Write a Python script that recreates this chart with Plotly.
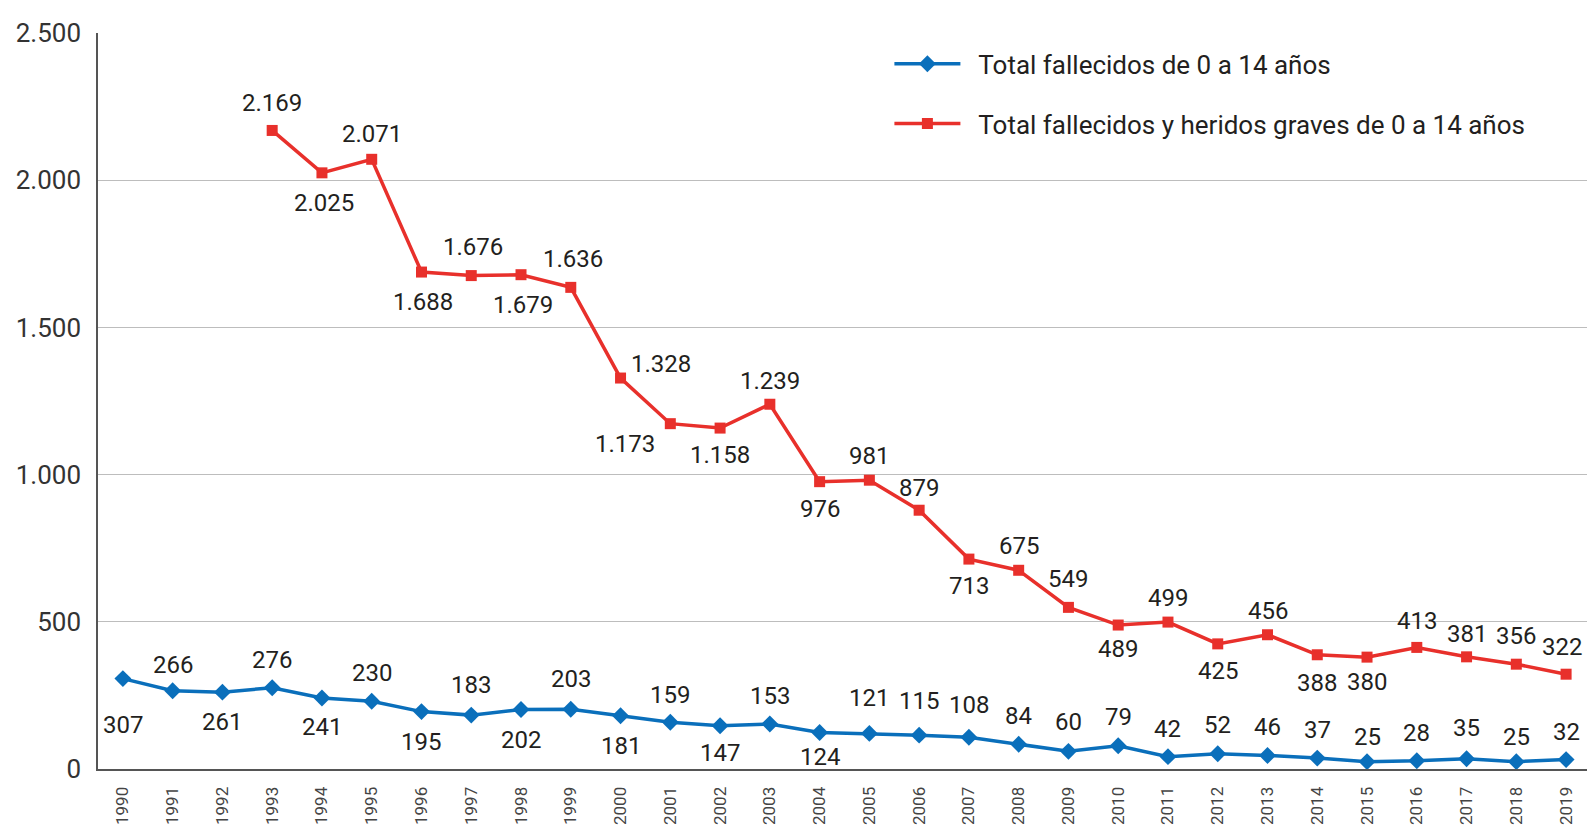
import plotly.graph_objects as go

years = list(range(1990, 2020))
fallecidos = [307, 266, 261, 276, 241, 230, 195, 183, 202, 203, 181, 159, 147, 153, 124,
              121, 115, 108, 84, 60, 79, 42, 52, 46, 37, 25, 28, 35, 25, 32]
red_years = list(range(1993, 2020))
graves = [2169, 2025, 2071, 1688, 1676, 1679, 1636, 1328, 1173, 1158, 1239, 976, 981, 879,
          713, 675, 549, 489, 499, 425, 456, 388, 380, 413, 381, 356, 322]

name_blue = "Total fallecidos de 0 a 14 años"
name_red = "Total fallecidos y heridos graves de 0 a 14 años"

# label offsets (pixels): (xshift, yshift)
blue_off = [(0, -46), (0, 26), (0, -30), (0, 28), (0, -29), (0, 28), (0, -30), (0, 30), (0, -30), (0, 30),
            (0, -30), (0, 27), (0, -27), (0, 28), (0, -25), (0, 35), (0, 34), (0, 32), (0, 28), (0, 29),
            (0, 29), (0, 28), (0, 29), (0, 28), (0, 28), (0, 25), (0, 28), (0, 31), (0, 25), (0, 28)]
red_off = [(0, 27), (2, -30), (0, 25), (2, -30), (2, 29), (2, -30), (2, 28), (40, 14), (-45, -20),
           (0, -27), (0, 23), (0, -27), (0, 24), (0, 22), (0, -27), (0, 24), (0, 28), (0, -24),
           (0, 24), (0, -27), (0, 24), (0, -28), (0, -25), (0, 26), (0, 23), (0, 28), (-4, 27)]

BLUE = "#0a6fbb"
RED = "#e8302b"
TXT = "#231f20"
FONT = "Roboto, sans-serif"


def fmt(v):
    return f"{v:,}".replace(",", ".")


fig = go.Figure()
fig.add_trace(go.Scatter(x=years, y=fallecidos, mode="lines+markers",
                         name="\u00a0\u00a0" + name_blue,
                         line=dict(color=BLUE, width=3.5),
                         marker=dict(symbol="diamond", size=13, color=BLUE),
                         legendgroup="a"))
fig.add_trace(go.Scatter(x=red_years, y=graves, mode="lines+markers",
                         name="\u00a0\u00a0" + name_red,
                         line=dict(color=RED, width=3.5),
                         marker=dict(symbol="square", size=11, color=RED),
                         legendgroup="b"))

annotations = []
for x, v, (dx, dy) in zip(years, fallecidos, blue_off):
    annotations.append(dict(x=x, y=v, xref="x", yref="y", text=fmt(v), showarrow=False,
                            xshift=dx, yshift=dy, font=dict(family=FONT, size=24, color=TXT)))
for x, v, (dx, dy) in zip(red_years, graves, red_off):
    annotations.append(dict(x=x, y=v, xref="x", yref="y", text=fmt(v), showarrow=False,
                            xshift=dx, yshift=dy, font=dict(family=FONT, size=24, color=TXT)))

fig.update_layout(
    width=1587, height=831,
    margin=dict(l=98, r=0, t=33, b=62, autoexpand=False),
    paper_bgcolor="white", plot_bgcolor="white",
    separators=",.",
    font=dict(family=FONT, color=TXT),
    annotations=annotations,
    showlegend=True,
    legend=dict(x=0.5315, y=0.99, xanchor="left", yanchor="top",
                font=dict(family=FONT, size=26, color=TXT),
                tracegroupgap=23, traceorder="grouped", itemwidth=66,
                bgcolor="rgba(0,0,0,0)"),
)
fig.update_xaxes(range=[1989.5, 2019.42], tickmode="array", tickvals=years,
                 ticktext=[str(y) for y in years], tickangle=-90,
                 tickfont=dict(family=FONT, size=17, color="#444"),
                 showgrid=False, zeroline=False, showline=True, linecolor="#555", linewidth=2,
                 ticks="", automargin=False, ticklabelstandoff=9)
fig.update_yaxes(range=[0, 2500], tickvals=[0, 500, 1000, 1500, 2000, 2500],
                 separatethousands=True, tickformat=",d",
                 tickfont=dict(family=FONT, size=26, color="#333"),
                 showgrid=True, gridcolor="#bdbdbd", gridwidth=1.2, zeroline=False,
                 showline=True, linecolor="#555", linewidth=1.5, ticks="",
                 ticklabelstandoff=10, automargin=False)

fig.write_html("out.html", config={"displayModeBar": False},
               post_script="document.body.style.margin='0';")
